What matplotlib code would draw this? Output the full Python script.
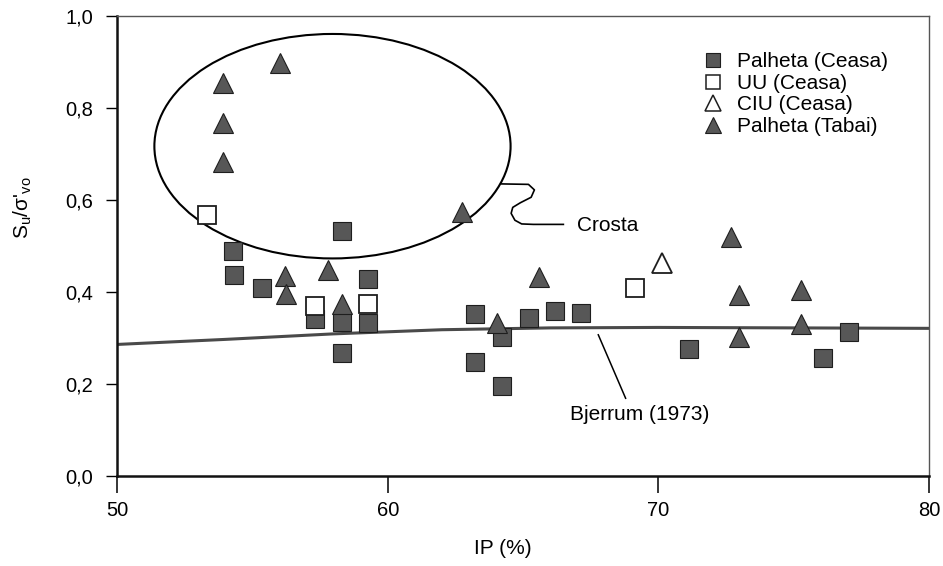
import matplotlib
matplotlib.use("Agg")
import matplotlib.pyplot as plt
from matplotlib.lines import Line2D
from matplotlib.patches import Ellipse

plt.rcParams["font.family"] = ["Liberation Sans", "DejaVu Sans"]
plt.rcParams["mathtext.fontset"] = "custom"
plt.rcParams["mathtext.rm"] = "Liberation Sans"

# Palheta (Ceasa) - vane tests
palheta_ceasa_ip = [58.31, 54.3, 54.33, 55.37, 59.27, 57.31, 58.31, 59.27, 58.31,
                    63.21, 63.21, 64.21, 64.21, 65.22, 66.19, 67.13, 71.14, 77.03, 76.07]
palheta_ceasa_su = [0.533, 0.489, 0.437, 0.408, 0.428, 0.341, 0.335, 0.333, 0.268,
                    0.352, 0.248, 0.302, 0.196, 0.343, 0.359, 0.355, 0.276, 0.312, 0.257]

# UU (Ceasa)
uu_ip = [53.34, 57.31, 59.27, 69.15]
uu_su = [0.567, 0.370, 0.373, 0.409]

# CIU (Ceasa)
ciu_ip = [70.13]
ciu_su = [0.464]

# Palheta (Tabai)
palheta_tabai_ip = [56.03, 53.9, 53.93, 53.9, 62.76, 56.22, 56.24, 57.8, 65.6, 58.31,
                    64.02, 72.67, 72.99, 75.26, 72.97, 75.26]
palheta_tabai_su = [0.897, 0.854, 0.768, 0.683, 0.575, 0.435, 0.395, 0.448, 0.433, 0.375,
                    0.332, 0.520, 0.393, 0.404, 0.302, 0.330]

# Bjerrum (1973) correlation
bjerrum_ip = [50, 54, 58, 62, 66, 70, 75, 80]
bjerrum_su = [0.286, 0.297, 0.309, 0.318, 0.322, 0.323, 0.322, 0.321]

# "Crosta" grouping ellipse and its leader
crosta_center = (57.96, 0.717)
crosta_width = 13.16
crosta_height = 0.488
crosta_leader_ip = [64.21, 65.2, 65.42, 65.3, 64.9, 64.62, 64.56, 64.7, 64.95, 65.38, 66.49]
crosta_leader_su = [0.635, 0.634, 0.622, 0.606, 0.594, 0.584, 0.571, 0.556, 0.548, 0.547, 0.547]

FILL = "#575757"
EDGE = "#1e1e1e"

fig = plt.figure(figsize=(9.43, 5.66), dpi=100)
ax = fig.add_axes([0.1241, 0.159, 0.8611, 0.8127])

ax.plot(bjerrum_ip, bjerrum_su, color="#4a4a4a", lw=2.2, zorder=2)

ax.add_patch(Ellipse(crosta_center, crosta_width, crosta_height,
                     fill=False, edgecolor="black", lw=1.5, zorder=2))
ax.plot(crosta_leader_ip, crosta_leader_su, color="black", lw=1.2, zorder=2)
ax.text(66.98, 0.544, "Crosta", fontsize=15, va="center", ha="left")

ax.plot([67.78, 68.79], [0.307, 0.169], color="black", lw=1.1, zorder=2)
ax.text(69.32, 0.133, "Bjerrum (1973)", fontsize=15, va="center", ha="center")

ax.plot(palheta_ceasa_ip, palheta_ceasa_su, ls="none", marker="s", ms=13.5,
        mfc=FILL, mec=EDGE, mew=0.8, zorder=3)
ax.plot(uu_ip, uu_su, ls="none", marker="s", ms=13.5,
        mfc="white", mec=EDGE, mew=1.3, zorder=4)
ax.plot(ciu_ip, ciu_su, ls="none", marker="^", ms=14,
        mfc="white", mec=EDGE, mew=1.3, zorder=4)
ax.plot(palheta_tabai_ip, palheta_tabai_su, ls="none", marker="^", ms=14,
        mfc=FILL, mec=EDGE, mew=0.8, zorder=5)

handles = [
    Line2D([], [], ls="none", marker="s", ms=10, mfc=FILL, mec=EDGE, mew=0.8, label="Palheta (Ceasa)"),
    Line2D([], [], ls="none", marker="s", ms=10, mfc="white", mec=EDGE, mew=1.1, label="UU (Ceasa)"),
    Line2D([], [], ls="none", marker="^", ms=11, mfc="white", mec=EDGE, mew=1.1, label="CIU (Ceasa)"),
    Line2D([], [], ls="none", marker="^", ms=11, mfc=FILL, mec=EDGE, mew=0.8, label="Palheta (Tabai)"),
]
ax.legend(handles=handles, loc="upper left", bbox_to_anchor=(0.721, 0.921),
          frameon=False, fontsize=15, handlelength=1.0, handletextpad=0.65,
          labelspacing=0.12, borderpad=0, borderaxespad=0)

ax.set_xlim(50, 80)
ax.set_ylim(0, 1.0)
ax.set_xticks([50, 60, 70, 80])
ax.set_yticks([0.0, 0.2, 0.4, 0.6, 0.8, 1.0])
ax.set_yticklabels(["0,0", "0,2", "0,4", "0,6", "0,8", "1,0"])
ax.tick_params(axis="x", direction="out", length=12, width=1.1, pad=6, labelsize=14.5)
ax.tick_params(axis="y", direction="out", length=8, width=1.0, pad=9, labelsize=14.5)

for side in ["left", "bottom"]:
    ax.spines[side].set_linewidth(1.8)
    ax.spines[side].set_color("#111111")
for side in ["top", "right"]:
    ax.spines[side].set_linewidth(1.0)
    ax.spines[side].set_color("#555555")

ax.set_xlabel("IP (%)", fontsize=15)
ax.xaxis.set_label_coords(0.475, -0.138)
ax.set_ylabel(r"S$_\mathregular{u}$/σ'$_\mathregular{vo}$", fontsize=15)
ax.yaxis.set_label_coords(-0.102, 0.583)

fig.savefig("out.png", dpi=100, facecolor="white")
